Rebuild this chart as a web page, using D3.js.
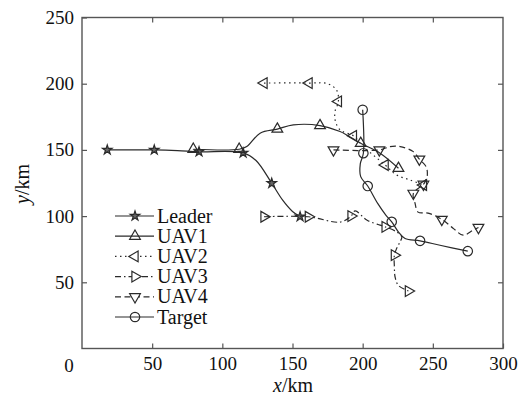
<!DOCTYPE html>
<html>
<head>
<meta charset="utf-8">
<script src="https://cdn.jsdelivr.net/npm/d3@7"></script>
<style>
  body { margin: 0; background: #fff; }
  svg text { font-family: "Liberation Serif", "Times New Roman", "DejaVu Serif", serif; }
</style>
</head>
<body>
<svg id="chart" width="521" height="397"></svg>
<script>
// tick values
const xTicks = [50, 100, 150, 200, 250, 300];
const yTicks = [50, 100, 150, 200, 250];

// paths read along each curve, and the marker points on them
const leaderPath = [[18, 150], [51.5, 150], [68, 149.5], [83.4, 148.6], [114.8, 147.8], [124, 142], [135.2, 124.8], [143, 112], [150, 103.5], [155.4, 99.6]];
const leaderMarks = [[18, 150], [51.5, 150], [83.4, 148.6], [114.8, 147.8], [135.2, 124.8], [155.4, 99.6]];

const uav1Path = [[79.3, 150.5], [112, 150.5], [117.4, 152.5], [126.9, 162.6], [139.2, 165.7], [150.6, 168.9], [169.6, 168.4], [183.9, 163.9], [198.6, 155], [212.4, 147.5], [225.5, 136.1]];
const uav1Marks = [[79.3, 150.5], [112, 150.5], [139.2, 165.7], [169.6, 168.4], [198.6, 155], [225.5, 136.1]];

const uav2Path = [[129.7, 200.5], [161.8, 200.5], [175, 200], [181.5, 195], [182.7, 186.6], [180.3, 179], [180.5, 172], [184, 165], [193.4, 160.6], [200, 153], [216, 138.6], [224.2, 131], [233.8, 127.3], [243.3, 123.5]];
const uav2Marks = [[129.7, 200.5], [161.8, 200.5], [182.7, 186.6], [193.4, 160.6], [216, 138.6], [243.3, 123.5]];

const uav3Path = [[129.7, 99.5], [161.3, 99.5], [183.9, 95.5], [191.7, 100], [194.6, 104], [202.9, 97], [212.4, 93.2], [216, 91.9], [224.2, 88.1], [227.9, 84.3], [226.6, 80.5], [224.2, 75.5], [222.6, 70.5], [222.6, 61.6], [223.1, 54], [225.4, 47.7], [232.6, 43.4]];
const uav3Marks = [[129.7, 99.5], [161.3, 99.5], [191.7, 100], [216, 91.9], [222.6, 70.5], [232.6, 43.4]];

const uav4Path = [[179.2, 150], [211.9, 150], [219.5, 152.5], [226.7, 152.5], [236.1, 148.7], [240.4, 143], [245.2, 137.3], [246.1, 131.1], [244.5, 126], [243.3, 124], [236.1, 117.2], [237.3, 109.8], [239.5, 103], [246.6, 102.3], [256.4, 97.5], [264.4, 90.9], [271.6, 85.6], [278.7, 89.4], [282.5, 91.4]];
const uav4Marks = [[179.2, 150], [211.9, 150], [240.4, 143], [243.3, 124], [236.1, 117.2], [256.4, 97.5], [282.5, 91.4]];

const targetPath = [[200, 180.3], [200.5, 147.5], [198.3, 139.5], [198.6, 129.8], [203.6, 122.7], [210.7, 109.6], [216.5, 100.8], [220.7, 95.7], [225.4, 88.1], [230.2, 83.1], [240.9, 81.3], [255.1, 78], [274.9, 73.5]];
const targetMarks = [[200, 180.3], [200.5, 147.5], [203.6, 122.7], [220.7, 95.7], [240.9, 81.3], [274.9, 73.5]];

const seriesNames = ["Leader", "UAV1", "UAV2", "UAV3", "UAV4", "Target"];

const series = [
  { name: seriesNames[0], path: leaderPath, marks: leaderMarks, dash: null, marker: "star" },
  { name: seriesNames[1], path: uav1Path, marks: uav1Marks, dash: null, marker: "up" },
  { name: seriesNames[2], path: uav2Path, marks: uav2Marks, dash: "1.5,3.5", marker: "left" },
  { name: seriesNames[3], path: uav3Path, marks: uav3Marks, dash: "6,3,1.5,3", marker: "right" },
  { name: seriesNames[4], path: uav4Path, marks: uav4Marks, dash: "6,3.5", marker: "down" },
  { name: seriesNames[5], path: targetPath, marks: targetMarks, dash: null, marker: "circle" }
];

const svg = d3.select("#chart");
const plotLeft = 82, plotRight = 503, plotTop = 17.5, plotBottom = 348.5;
const ink = "#2a2a2a";
const axisInk = "#555";
const serif = "'Liberation Serif', 'Times New Roman', serif";

const x = d3.scaleLinear().domain([0, 300]).range([plotLeft, plotRight]);
const y = d3.scaleLinear().domain([0, 250]).range([plotBottom, plotTop]);

// axes, ticks pointing inward
svg.append("g")
  .attr("transform", `translate(0,${plotBottom})`)
  .call(d3.axisBottom(x).tickValues(xTicks).tickSize(-5).tickSizeOuter(0).tickPadding(8));
svg.append("g")
  .attr("transform", `translate(${plotLeft},0)`)
  .call(d3.axisLeft(y).tickValues(yTicks).tickSize(-5).tickSizeOuter(0).tickPadding(8));
svg.append("g")
  .attr("transform", `translate(0,${plotTop})`)
  .call(d3.axisTop(x).tickValues(xTicks.slice(0, 5)).tickSize(-5).tickSizeOuter(0).tickFormat(""));
svg.append("g")
  .attr("transform", `translate(${plotRight},0)`)
  .call(d3.axisRight(y).tickValues(yTicks.slice(0, 4)).tickSize(-5).tickSizeOuter(0).tickFormat(""));

svg.selectAll(".domain").remove();
svg.selectAll("g").attr("font-family", serif);
svg.selectAll(".tick line").attr("stroke", axisInk).attr("stroke-width", 1.2);
svg.selectAll(".tick text").attr("fill", "#111").attr("font-family", serif).style("font-size", "19px");

svg.append("rect")
  .attr("x", plotLeft).attr("y", plotTop)
  .attr("width", plotRight - plotLeft).attr("height", plotBottom - plotTop)
  .attr("fill", "none").attr("stroke", axisInk).attr("stroke-width", 1.4);

// shared origin label
svg.append("text")
  .attr("x", 69).attr("y", 371.5)
  .attr("text-anchor", "middle")
  .attr("font-family", serif)
  .style("font-size", "19px")
  .attr("fill", "#111")
  .text("0");

// axis titles
const xTitle = svg.append("text")
  .attr("x", 293).attr("y", 392)
  .attr("text-anchor", "middle")
  .attr("font-family", serif)
  .style("font-size", "20px")
  .attr("fill", "#111");
xTitle.append("tspan").style("font-style", "italic").text("x");
xTitle.append("tspan").text("/km");

const yTitle = svg.append("text")
  .attr("transform", "translate(29,184) rotate(-90)")
  .attr("text-anchor", "middle")
  .attr("font-family", serif)
  .style("font-size", "20px")
  .attr("fill", "#111");
yTitle.append("tspan").style("font-style", "italic").text("y");
yTitle.append("tspan").text("/km");

// markers
function markerPath(kind) {
  if (kind === "star") return d3.symbol(d3.symbolStar, 28)();
  if (kind === "circle") return d3.symbol(d3.symbolCircle, 70)();
  return d3.symbol(d3.symbolTriangle, 50)();
}
const rotation = { up: 0, right: 90, down: 180, left: 270 };

function drawMarkers(g, kind, pts) {
  g.selectAll("path.mk")
    .data(pts)
    .join("path")
    .attr("class", "mk")
    .attr("d", markerPath(kind))
    .attr("transform", d => `translate(${x(d[0])},${y(d[1])}) rotate(${rotation[kind] || 0})`)
    .attr("fill", kind === "star" ? "#666" : "none")
    .attr("stroke", ink)
    .attr("stroke-width", 1.2);
}

const line = d3.line()
  .x(d => x(d[0]))
  .y(d => y(d[1]))
  .curve(d3.curveCatmullRom.alpha(0.5));

series.forEach(s => {
  const g = svg.append("g");
  g.append("path")
    .attr("d", line(s.path))
    .attr("fill", "none")
    .attr("stroke", ink)
    .attr("stroke-width", 1.2)
    .attr("stroke-dasharray", s.dash);
  drawMarkers(g, s.marker, s.marks);
});

// legend
const legend = svg.append("g");
series.forEach((s, i) => {
  const ly = 216 + i * 20.2;
  const row = legend.append("g").attr("transform", `translate(0,${ly})`);
  row.append("line")
    .attr("x1", 115).attr("x2", 154)
    .attr("stroke", ink).attr("stroke-width", 1.2)
    .attr("stroke-dasharray", s.dash);
  row.append("path")
    .attr("d", markerPath(s.marker))
    .attr("transform", `translate(135,0) rotate(${rotation[s.marker] || 0})`)
    .attr("fill", s.marker === "star" ? "#666" : (s.dash ? "#fff" : "none"))
    .attr("stroke", ink)
    .attr("stroke-width", 1.2);
  row.append("text")
    .attr("x", 157).attr("y", 6.5)
    .attr("font-family", serif)
    .style("font-size", "20px")
    .attr("fill", "#111")
    .text(s.name);
});
</script>
</body>
</html>
